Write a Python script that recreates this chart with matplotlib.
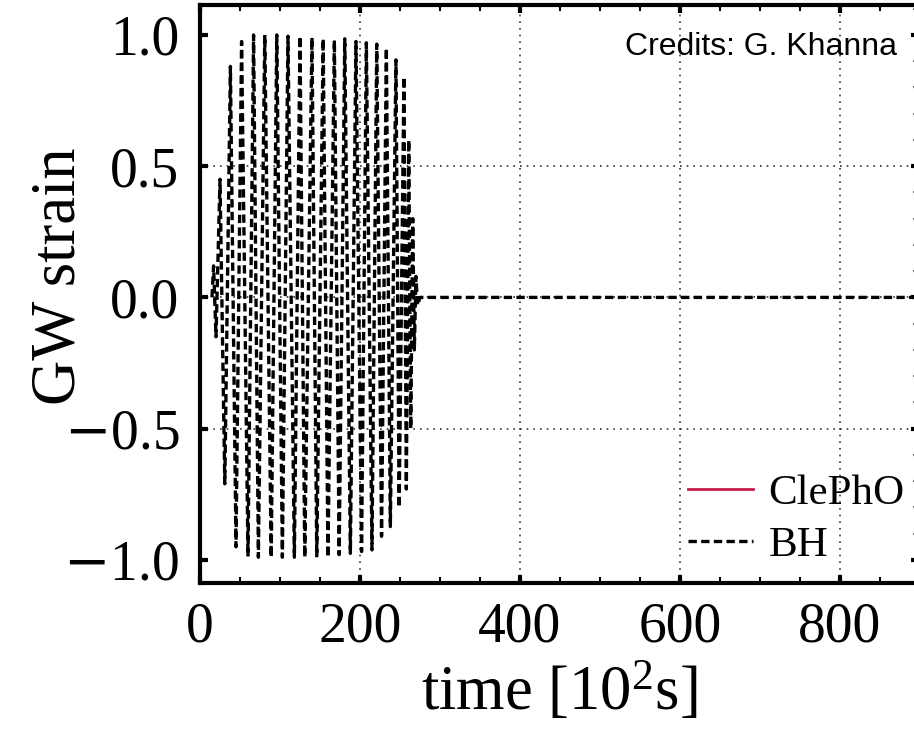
import numpy as np
import matplotlib
matplotlib.use("Agg")
import matplotlib.pyplot as plt
from matplotlib.ticker import MultipleLocator

plt.rcParams['font.family'] = ['Liberation Serif', 'DejaVu Serif']
plt.rcParams['mathtext.fontset'] = 'custom'
plt.rcParams['mathtext.rm'] = 'Liberation Serif'
plt.rcParams['mathtext.it'] = 'Liberation Serif:italic'
plt.rcParams['mathtext.sf'] = 'DejaVu Serif'

# turning points of the BH waveform (time in 10^2 s, normalised strain)
bh_time = [15, 17, 20, 25, 31, 38, 45, 52, 60, 67, 73, 81, 89, 96, 103,
           110, 118, 125, 131, 140, 146, 154, 160, 168, 174, 181, 188, 195,
           202, 208, 215, 221, 227, 233, 238, 245, 249, 255, 258, 261,
           263.5, 266, 268, 270, 272, 275, 900]
bh_strain = [0.0, 0.12, -0.15, 0.45, -0.71, 0.88, -0.95, 0.975, -0.987, 1.0,
             -0.99, 1.0, -0.99, 1.0, -0.99, 0.995, -0.99, 0.995, -0.99, 0.99,
             -0.99, 0.985, -0.99, 0.98, -0.98, 0.985, -0.975, 0.975, -0.968,
             0.97, -0.962, 0.965, -0.91, 0.95, -0.873, 0.905, -0.80, 0.84,
             -0.73, 0.6, -0.5, 0.3, -0.2, 0.08, -0.03, 0.0, 0.0]

x_ticks = [0, 200, 400, 600, 800]
y_ticks = [-1.0, -0.5, 0.0, 0.5, 1.0]
y_tick_labels = [r'$\mathsf{-}$1.0', r'$\mathsf{-}$0.5', '0.0', '0.5', '1.0']
grid_x = [200, 400, 600, 800]
grid_y = [-0.5, 0.0, 0.5]

fig = plt.figure(figsize=(9.14, 7.34), dpi=100)
ax = fig.add_axes([200/914, 151/734, 719/914, 578/734])

# grid drawn by hand, Mathematica style
for gx in grid_x:
    ax.axvline(gx, color='#333333', lw=1.2, ls=(0, (1, 3)), zorder=1)
for gy in grid_y:
    ax.axhline(gy, color='#333333', lw=1.2, ls=(0, (1, 3)), zorder=1)

ax.plot([], [], color='#c81e4a', lw=2.0, label='ClePhO')
ax.plot(bh_time, bh_strain, color='black', lw=2.4, ls=(0, (2.5, 1.3)),
        label='BH', zorder=3)

ax.set_xlim(0, 899)
ax.set_ylim(-1.088, 1.114)
ax.set_xticks(x_ticks)
ax.set_yticks(y_ticks)
ax.set_yticklabels(y_tick_labels)
ax.xaxis.set_minor_locator(MultipleLocator(50))
ax.yaxis.set_minor_locator(MultipleLocator(0.1))

ax.tick_params(which='both', direction='in', top=True, right=True, colors='black')
ax.tick_params(which='major', length=6, width=3, labelsize=40)
ax.tick_params(axis='x', which='major', pad=13)
ax.tick_params(axis='y', which='major', pad=15)
ax.tick_params(which='minor', length=4, width=1.5)
ax.tick_params(axis='y', which='minor', left=False, color='#777777')

for sp in ax.spines.values():
    sp.set_linewidth(3)

ax.set_xlabel('time [10$^2$s]', fontsize=45, labelpad=6)
ax.set_ylabel('GW strain', fontsize=45)
ax.yaxis.set_label_coords(-0.155, 0.53)

ax.legend(loc='upper left', bbox_to_anchor=(688/914, 1 - 474/734),
          bbox_transform=fig.transFigure, frameon=False, fontsize=31,
          handlelength=1.5, handletextpad=0.37, labelspacing=0.3,
          borderpad=0, borderaxespad=0)

fig.text(625/914, 1 - 55/734, 'Credits: G. Khanna', fontsize=23,
         family='Liberation Sans', ha='left', va='baseline')

fig.savefig('out.png', dpi=100)
